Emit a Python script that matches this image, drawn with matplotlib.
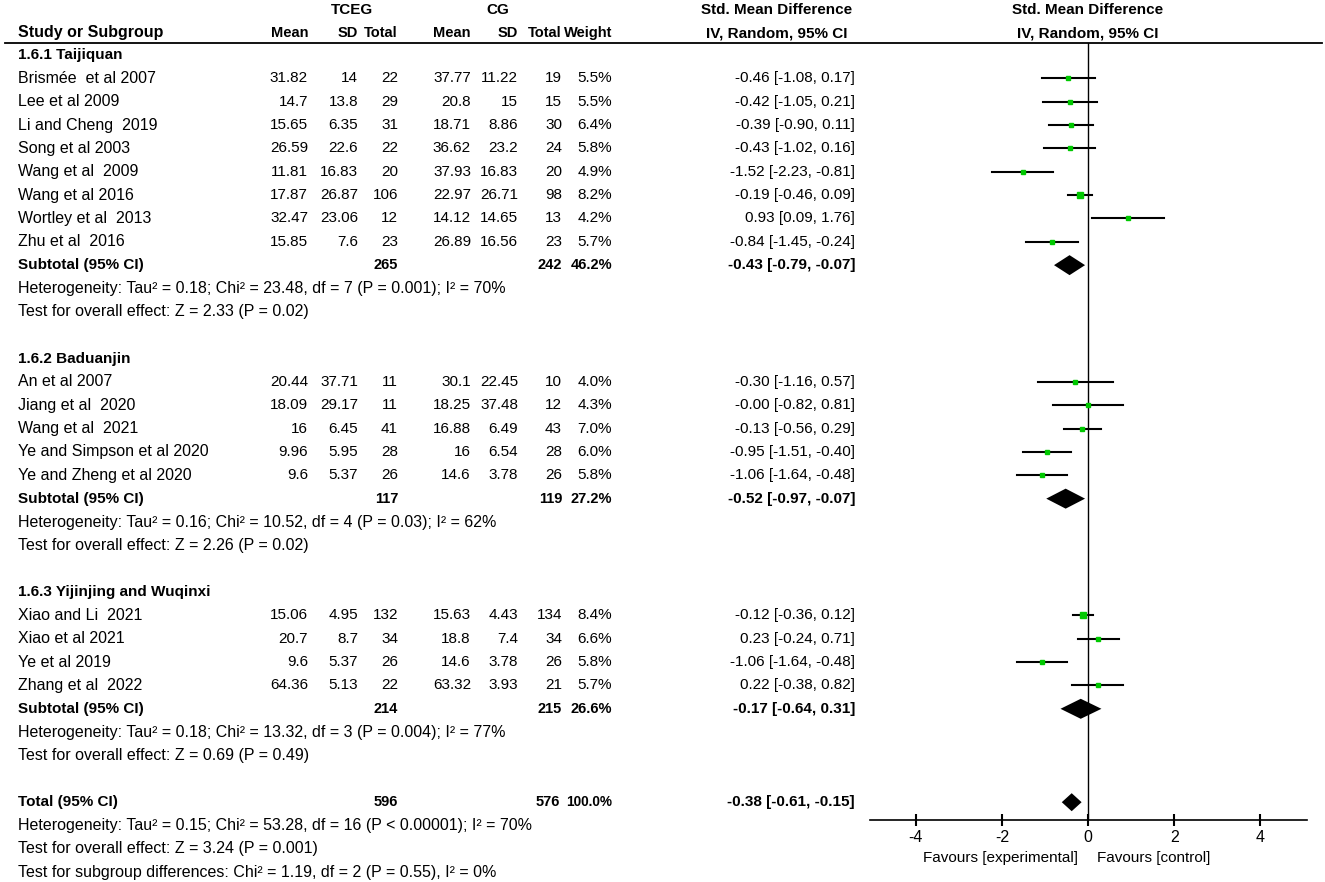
import matplotlib.pyplot as plt
import numpy as np

plt.rcParams['font.family'] = ['Liberation Sans', 'DejaVu Sans']

# --- data ---
groups = ['1.6.1 Taijiquan', '1.6.2 Baduanjin', '1.6.3 Yijinjing and Wuqinxi']

names = [
    ['Brismée  et al 2007', 'Lee et al 2009', 'Li and Cheng  2019', 'Song et al 2003',
     'Wang et al  2009', 'Wang et al 2016', 'Wortley et al  2013', 'Zhu et al  2016'],
    ['An et al 2007', 'Jiang et al  2020', 'Wang et al  2021', 'Ye and Simpson et al 2020',
     'Ye and Zheng et al 2020'],
    ['Xiao and Li  2021', 'Xiao et al 2021', 'Ye et al 2019', 'Zhang et al  2022'],
]
exp_mean = [[31.82, 14.7, 15.65, 26.59, 11.81, 17.87, 32.47, 15.85],
            [20.44, 18.09, 16, 9.96, 9.6],
            [15.06, 20.7, 9.6, 64.36]]
exp_sd = [[14, 13.8, 6.35, 22.6, 16.83, 26.87, 23.06, 7.6],
          [37.71, 29.17, 6.45, 5.95, 5.37],
          [4.95, 8.7, 5.37, 5.13]]
exp_n = [[22, 29, 31, 22, 20, 106, 12, 23],
         [11, 11, 41, 28, 26],
         [132, 34, 26, 22]]
ctl_mean = [[37.77, 20.8, 18.71, 36.62, 37.93, 22.97, 14.12, 26.89],
            [30.1, 18.25, 16.88, 16, 14.6],
            [15.63, 18.8, 14.6, 63.32]]
ctl_sd = [[11.22, 15, 8.86, 23.2, 16.83, 26.71, 14.65, 16.56],
          [22.45, 37.48, 6.49, 6.54, 3.78],
          [4.43, 7.4, 3.78, 3.93]]
ctl_n = [[19, 15, 30, 24, 20, 98, 13, 23],
         [10, 12, 43, 28, 26],
         [134, 34, 26, 21]]
weight = [[5.5, 5.5, 6.4, 5.8, 4.9, 8.2, 4.2, 5.7],
          [4.0, 4.3, 7.0, 6.0, 5.8],
          [8.4, 6.6, 5.8, 5.7]]
smd = [[-0.46, -0.42, -0.39, -0.43, -1.52, -0.19, 0.93, -0.84],
       [-0.30, -0.0, -0.13, -0.95, -1.06],
       [-0.12, 0.23, -1.06, 0.22]]
ci_lo = [[-1.08, -1.05, -0.90, -1.02, -2.23, -0.46, 0.09, -1.45],
         [-1.16, -0.82, -0.56, -1.51, -1.64],
         [-0.36, -0.24, -1.64, -0.38]]
ci_hi = [[0.17, 0.21, 0.11, 0.16, -0.81, 0.09, 1.76, -0.24],
         [0.57, 0.81, 0.29, -0.40, -0.48],
         [0.12, 0.71, -0.48, 0.82]]

sub_exp_n = [265, 117, 214]
sub_ctl_n = [242, 119, 215]
sub_weight = [46.2, 27.2, 26.6]
sub_smd = [-0.43, -0.52, -0.17]
sub_lo = [-0.79, -0.97, -0.64]
sub_hi = [-0.07, -0.07, 0.31]
sub_het = ['Heterogeneity: Tau² = 0.18; Chi² = 23.48, df = 7 (P = 0.001); I² = 70%',
           'Heterogeneity: Tau² = 0.16; Chi² = 10.52, df = 4 (P = 0.03); I² = 62%',
           'Heterogeneity: Tau² = 0.18; Chi² = 13.32, df = 3 (P = 0.004); I² = 77%']
sub_z = ['Test for overall effect: Z = 2.33 (P = 0.02)',
         'Test for overall effect: Z = 2.26 (P = 0.02)',
         'Test for overall effect: Z = 0.69 (P = 0.49)']

tot_exp_n, tot_ctl_n, tot_weight = 596, 576, 100.0
tot_smd, tot_lo, tot_hi = -0.38, -0.61, -0.15
tot_notes = ['Heterogeneity: Tau² = 0.15; Chi² = 53.28, df = 16 (P < 0.00001); I² = 70%',
             'Test for overall effect: Z = 3.24 (P = 0.001)',
             'Test for subgroup differences: Chi² = 1.19, df = 2 (P = 0.55), I² = 0%']

ticks = [-4, -2, 0, 2, 4]

# --- layout (pixel units) ---
W, H = 1325, 882
FS = 11.5     # normal text
FSB = 11      # bold labels
FSC = 10.5    # bold column cells (narrow in the original)
y0, step = 55, 23.35
cols = [308, 358, 398, 471, 518, 562, 612, 855]
x_name = 18
green = '#00c800'

fig = plt.figure(figsize=(W / 100, H / 100), dpi=100)
ax = fig.add_axes([0, 0, 1, 1])
ax.set_xlim(0, W)
ax.set_ylim(H, 0)
ax.axis('off')

fx0, fx1, fy0, fy1 = 870, 1307, 43, 820
fa = fig.add_axes([fx0 / W, 1 - fy1 / H, (fx1 - fx0) / W, (fy1 - fy0) / H])
fa.set_xlim(-5.06, 5.08)
fa.set_ylim(fy1, fy0)
fa.patch.set_alpha(0)
for s in ['top', 'left', 'right']:
    fa.spines[s].set_visible(False)
fa.spines['bottom'].set_linewidth(1.2)
fa.set_yticks([])
fa.set_xticks(ticks)
fa.set_xticklabels([str(t) for t in ticks])
fa.tick_params(axis='x', direction='inout', length=9, width=1.5, labelsize=FS, pad=3)
fa.axvline(0, color='black', lw=1.0)


def txt(x, y, s, ha='left', bold=False, size=None):
    if size is None:
        size = FSB if bold else FS
    ax.text(x, y, s, ha=ha, va='center', fontsize=size,
            fontweight='bold' if bold else 'normal')


def diamond(y, m, lo, hi, h=10):
    fa.fill([lo, m, hi, m], [y, y - h, y, y + h], color='black', lw=0)


# header
txt(352, 10, 'TCEG', ha='center', bold=True)
txt(498, 10, 'CG', ha='center', bold=True)
txt(777, 10, 'Std. Mean Difference', ha='center', bold=True)
txt(1088, 10, 'Std. Mean Difference', ha='center', bold=True)
txt(x_name, 33, 'Study or Subgroup', bold=True, size=11.5)
for c, h in zip(cols[:7], ['Mean', 'SD', 'Total', 'Mean', 'SD', 'Total', 'Weight']):
    txt(c, 33, h, ha='right', bold=True, size=FSC)
txt(777, 33, 'IV, Random, 95% CI', ha='center', bold=True)
txt(1088, 33, 'IV, Random, 95% CI', ha='center', bold=True)
ax.plot([5, 1322], [43, 43], color='black', lw=1.3)

row = 0
for g in range(len(groups)):
    txt(x_name, y0 + row * step, groups[g], bold=True)
    row += 1
    for i in range(len(names[g])):
        y = y0 + row * step
        txt(x_name, y, names[g][i])
        vals = ['{:g}'.format(exp_mean[g][i]), '{:g}'.format(exp_sd[g][i]), str(exp_n[g][i]),
                '{:g}'.format(ctl_mean[g][i]), '{:g}'.format(ctl_sd[g][i]), str(ctl_n[g][i]),
                '{:.1f}%'.format(weight[g][i]),
                '{:.2f} [{:.2f}, {:.2f}]'.format(smd[g][i], ci_lo[g][i], ci_hi[g][i])]
        for c, v in zip(cols, vals):
            txt(c, y, v, ha='right', size=11)
        fa.plot([ci_lo[g][i], ci_hi[g][i]], [y, y], color='black', lw=1.5)
        fa.plot(smd[g][i], y, marker='s', ms=np.sqrt(weight[g][i]) * 1.3,
                color=green, mec=green, lw=0)
        row += 1
    y = y0 + row * step
    txt(x_name, y, 'Subtotal (95% CI)', bold=True)
    txt(cols[2], y, str(sub_exp_n[g]), ha='right', bold=True, size=FSC)
    txt(cols[5], y, str(sub_ctl_n[g]), ha='right', bold=True, size=FSC)
    txt(cols[6], y, '{:.1f}%'.format(sub_weight[g]), ha='right', bold=True, size=FSC)
    txt(cols[7], y, '{:.2f} [{:.2f}, {:.2f}]'.format(sub_smd[g], sub_lo[g], sub_hi[g]),
        ha='right', bold=True)
    diamond(y, sub_smd[g], sub_lo[g], sub_hi[g])
    row += 1
    txt(x_name, y0 + row * step, sub_het[g])
    row += 1
    txt(x_name, y0 + row * step, sub_z[g])
    row += 2

y = y0 + row * step
txt(x_name, y, 'Total (95% CI)', bold=True)
txt(cols[2], y, str(tot_exp_n), ha='right', bold=True, size=FSC)
txt(cols[5] - 2, y, str(tot_ctl_n), ha='right', bold=True, size=FSC)
txt(cols[6], y, '{:.1f}%'.format(tot_weight), ha='right', bold=True, size=9.8)
txt(cols[7], y, '{:.2f} [{:.2f}, {:.2f}]'.format(tot_smd, tot_lo, tot_hi), ha='right', bold=True)
diamond(y, tot_smd, tot_lo, tot_hi, h=9)
for note in tot_notes:
    row += 1
    txt(x_name, y0 + row * step, note)

txt(1078, 858, 'Favours [experimental]', ha='right', size=11)
txt(1097, 858, 'Favours [control]', size=11)

fig.savefig('out.png', dpi=100)
